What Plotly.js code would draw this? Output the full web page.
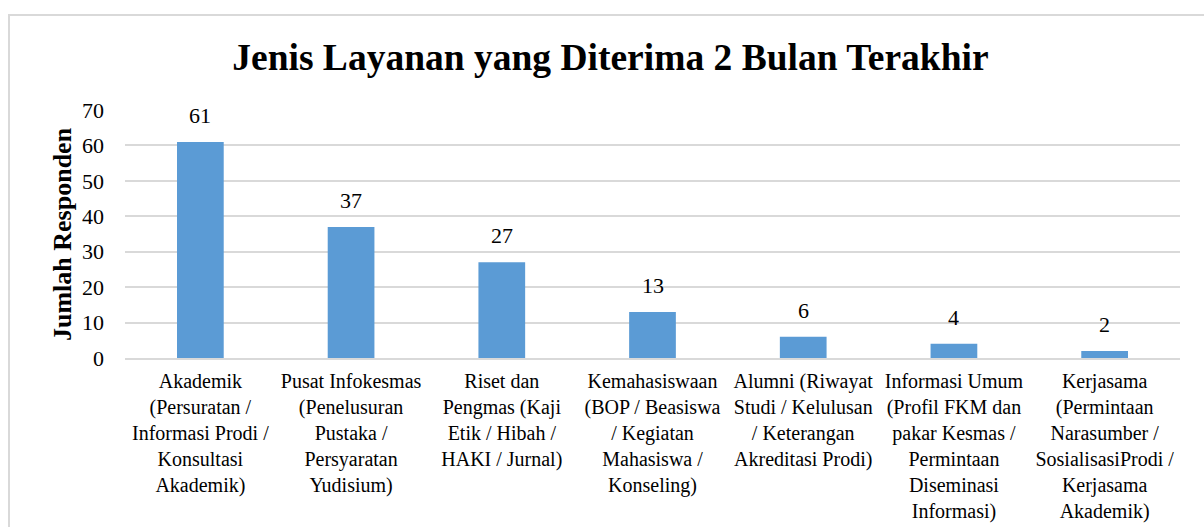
<!DOCTYPE html>
<html>
<head>
<meta charset="utf-8">
<script src="https://cdn.plot.ly/plotly-3.0.1.min.js"></script>
<style>
  html, body { margin: 0; padding: 0; background: #fff; overflow: hidden; }
  #frame { position: absolute; left: 8px; top: 14px; width: 1210px; height: 600px; border: 2px solid #d9d9d9; box-sizing: border-box; }
  #chart { position: absolute; left: 0; top: 0; width: 1204px; height: 527px; }
</style>
</head>
<body>
<div id="frame"></div>
<div id="chart"></div>
<script>
const categories = [
  "Akademik<br>(Persuratan /<br>Informasi Prodi /<br>Konsultasi<br>Akademik)",
  "Pusat Infokesmas<br>(Penelusuran<br>Pustaka /<br>Persyaratan<br>Yudisium)",
  "Riset dan<br>Pengmas (Kaji<br>Etik / Hibah /<br>HAKI / Jurnal)",
  "Kemahasiswaan<br>(BOP / Beasiswa<br>/ Kegiatan<br>Mahasiswa /<br>Konseling)",
  "Alumni (Riwayat<br>Studi / Kelulusan<br>/ Keterangan<br>Akreditasi Prodi)",
  "Informasi Umum<br>(Profil FKM dan<br>pakar Kesmas /<br>Permintaan<br>Diseminasi<br>Informasi)",
  "Kerjasama<br>(Permintaan<br>Narasumber /<br>SosialisasiProdi /<br>Kerjasama<br>Akademik)"
];
const values = [61, 37, 27, 13, 6, 4, 2];
const yTicks = [0, 10, 20, 30, 40, 50, 60, 70];

const serif = "Liberation Serif, Times New Roman, serif";

const trace = {
  type: 'bar',
  x: categories,
  y: values,
  marker: { color: '#5b9bd5' },
  hoverinfo: 'none'
};

const labelAnns = values.map((v, i) => ({
  x: categories[i], y: v, xref: 'x', yref: 'y',
  text: String(v), showarrow: false, yanchor: 'bottom', yshift: 12,
  font: { family: serif, size: 22, color: '#000' }
}));

const layout = {
  width: 1204, height: 527,
  margin: { l: 125, r: 24, t: 110, b: 169, pad: 0 },
  paper_bgcolor: 'rgba(0,0,0,0)',
  plot_bgcolor: 'rgba(0,0,0,0)',
  bargap: 0.69,
  showlegend: false,
  font: { family: serif },
  title: {
    text: '<b>Jenis Layanan yang Diterima 2 Bulan Terakhir</b>',
    font: { family: serif, size: 37.5, color: '#000' },
    x: 0.507, xanchor: 'center', y: 0.892, yanchor: 'middle', yref: 'container'
  },
  xaxis: {
    type: 'category',
    tickfont: { family: serif, size: 20, color: '#000' },
    showgrid: false,
    showline: true, linecolor: '#d9d9d9', linewidth: 2,
    ticks: '', tickangle: 0, automargin: false, ticklabelstandoff: 4
  },
  yaxis: {
    range: [0, 70],
    tickvals: yTicks,
    tickfont: { family: serif, size: 22, color: '#000' },
    showgrid: true, gridcolor: '#d9d9d9', gridwidth: 2,
    zeroline: false, showline: false,
    ticks: '', ticklabelstandoff: 20, automargin: false
  },
  annotations: labelAnns.concat([{
    text: '<b>Jumlah Responden</b>', xref: 'paper', yref: 'paper',
    x: -0.0597, y: 0.5, xanchor: 'center', yanchor: 'middle',
    textangle: -90, showarrow: false,
    font: { family: serif, size: 26, color: '#000' }
  }])
};

Plotly.newPlot('chart', [trace], layout, { displayModeBar: false, staticPlot: true });
</script>
</body>
</html>
